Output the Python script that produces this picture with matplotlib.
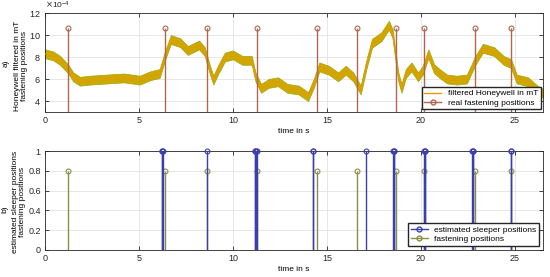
import numpy as np
import matplotlib
matplotlib.use('Agg')
import matplotlib.pyplot as plt
from matplotlib.lines import Line2D

plt.rcParams['font.family'] = ['Liberation Sans', 'DejaVu Sans']
plt.rcParams['font.size'] = 6

# filtered Honeywell signal (centre of the noisy band), values in 1e-4 mT
t_sig = [0.0, 0.44, 0.8, 1.24, 1.5, 1.86, 2.4, 3.28, 4.2, 5.05, 5.6, 6.1, 6.4, 6.7,
         7.2, 7.6, 8.2, 8.5, 8.78, 8.96, 9.2, 9.57, 10.0, 10.5, 11.0, 11.2, 11.5,
         11.9, 12.4, 12.9, 13.5, 14.0, 14.3, 14.6, 15.1, 15.6, 16.0, 16.4, 16.8,
         17.1, 17.4, 17.9, 18.3, 18.5, 18.8, 18.97, 19.2, 19.5, 19.85, 20.1, 20.4,
         20.7, 21.0, 21.4, 21.9, 22.45, 22.9, 23.3, 23.9, 24.4, 24.8, 25.1, 25.7,
         26.2, 26.5]
h_sig = [8.3, 8.1, 7.7, 6.9, 6.2, 5.8, 5.9, 6.0, 6.1, 5.9, 6.3, 6.5, 8.2, 9.6,
         9.3, 8.6, 9.1, 8.5, 6.8, 5.9, 6.8, 8.0, 8.2, 7.7, 7.7, 6.2, 5.15,
         5.6, 5.75, 5.15, 5.0, 4.4, 5.6, 7.1, 6.8, 6.2, 6.8, 6.2, 5.0,
         7.3, 9.25, 9.85, 10.9, 10.1, 6.2, 5.15, 6.5, 7.1, 6.2, 6.8, 8.3,
         6.95, 6.5, 6.0, 5.9, 6.0, 7.7, 8.8, 8.5, 7.7, 7.4, 6.0, 5.75,
         5.0, 4.7]

# real fastening positions (s)
fast_pos = [1.22, 6.38, 8.6, 11.27, 14.45, 16.58, 18.67, 20.16, 22.9, 24.77]
fast_top_height = 10.65   # in 1e-4 mT
fast_bot_height = 0.8

# estimated sleeper positions (s)
sleeper_pos = [6.20, 6.23, 6.26, 8.6, 11.17, 11.2, 11.23, 11.26, 14.25, 14.28,
               17.06, 18.53, 18.56, 18.59, 20.17, 20.2, 20.23, 22.72, 22.75,
               22.78, 24.78, 24.81]

c_sig = '#CDA800'
c_sig_edge = '#A8AA10'
c_sig_line = '#E89A00'
c_fast = '#B0674D'
c_fast_b = '#8A8F45'
c_sleep = '#3A3FB0'

fig = plt.figure(figsize=(5.5, 2.77), dpi=100)
ax1 = fig.add_axes([0.0818, 0.5957, 0.9055, 0.357])
ax2 = fig.add_axes([0.0818, 0.0975, 0.9055, 0.357])

t = np.array(t_sig)
h = np.array(h_sig) * 1e-4
ax1.fill_between(t, h - 0.4e-4, h + 0.4e-4, color=c_sig, ec=c_sig_edge, lw=0.6, zorder=2)
ax1.plot(t, h, color=c_sig_line, lw=0.8, zorder=3)
ax1.vlines(fast_pos, 0, fast_top_height * 1e-4, color=c_fast, lw=1.0, zorder=4)
ax1.plot(fast_pos, [fast_top_height * 1e-4] * len(fast_pos), 'o', mfc='none',
         mec=c_fast, ms=3.5, mew=0.8, zorder=5)

ax2.vlines(fast_pos, 0, fast_bot_height, color=c_fast_b, lw=1.0, zorder=3)
ax2.plot(fast_pos, [fast_bot_height] * len(fast_pos), 'o', mfc='none',
         mec=c_fast_b, ms=3.5, mew=0.8, zorder=4)
ax2.vlines(sleeper_pos, 0, 1, color=c_sleep, lw=1.0, zorder=5)
ax2.plot(sleeper_pos, [1] * len(sleeper_pos), 'o', mfc='none',
         mec=c_sleep, ms=3.5, mew=0.8, zorder=6, clip_on=False)

for ax in (ax1, ax2):
    ax.set_xlim(0, 26.5)
    ax.set_xticks([0, 5, 10, 15, 20, 25])
    ax.grid(True, color='#E3E3E3', lw=0.6, zorder=0)
    ax.set_axisbelow(True)
    ax.tick_params(direction='in', length=3, width=0.6, top=True, right=True,
                   colors='#262626', labelsize=6.5, pad=3)
    for s in ax.spines.values():
        s.set_color('#262626')
        s.set_linewidth(0.6)
    ax.set_xlabel('time in s', fontsize=6, labelpad=2)

ax1.set_ylim(3e-4, 12e-4)
ax1.set_yticks([4e-4, 6e-4, 8e-4, 10e-4, 12e-4])
ax1.ticklabel_format(axis='y', style='sci', scilimits=(-4, -4), useMathText=True)
ax1.yaxis.get_offset_text().set_fontsize(6)
ax1.set_ylabel('Honeywell filtered in mT\nfastening positions', fontsize=6,
               linespacing=1.1, va='center')
ax1.yaxis.set_label_coords(-0.048, 0.465)
fig.text(6 / 550, 1 - 63 / 277, 'a)', rotation=90, fontsize=6, ha='center', va='center')

ax2.set_ylim(0, 1)
ax2.set_yticks([0, 0.2, 0.4, 0.6, 0.8, 1])
ax2.set_yticklabels(['0', '0.2', '0.4', '0.6', '0.8', '1'])
ax2.set_ylabel('estimated sleeper positions\nfastening positions', fontsize=6,
               linespacing=1.1, va='center')
ax2.yaxis.set_label_coords(-0.052, 0.485)
fig.text(5 / 550, 1 - 209 / 277, 'b)', rotation=90, fontsize=6, ha='center', va='center')

h1 = [Line2D([], [], color=c_sig_line, lw=1.0),
      Line2D([], [], color=c_fast, lw=1.0, marker='o', mfc='none', ms=3.5, markevery=[1])]
ax1.legend(h1, ['filtered Honeywell in mT', 'real fastening positions'], loc='lower right',
           fontsize=6, fancybox=False, edgecolor='#262626', framealpha=1,
           borderpad=0.3, labelspacing=0.2, handlelength=2.0, borderaxespad=0.3)

h2 = [Line2D([], [], color=c_sleep, lw=1.0, marker='o', mfc='none', ms=3.5, markevery=[1]),
      Line2D([], [], color=c_fast_b, lw=1.0, marker='o', mfc='none', ms=3.5, markevery=[1])]
ax2.legend(h2, ['estimated sleeper positions', 'fastening positions'], loc='lower right',
           fontsize=6, fancybox=False, edgecolor='#262626', framealpha=1,
           borderpad=0.3, labelspacing=0.2, handlelength=2.0, borderaxespad=0.5)

fig.savefig('out.png', dpi=100)
